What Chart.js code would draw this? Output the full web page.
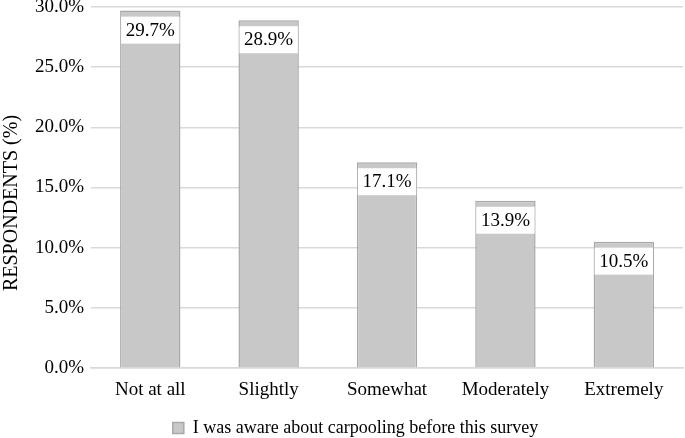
<!DOCTYPE html>
<html>
<head>
<meta charset="utf-8">
<script src="https://cdn.jsdelivr.net/npm/chart.js@4.4.0/dist/chart.umd.min.js"></script>
<style>
  html, body { margin: 0; padding: 0; background: #ffffff; }
  #wrap { width: 685px; height: 438px; }
</style>
</head>
<body>
<div id="wrap"><canvas id="chart"></canvas></div>
<script>
// chart data
const categories = ['Not at all', 'Slightly', 'Somewhat', 'Moderately', 'Extremely'];
const awareValues = [29.7, 28.9, 17.1, 13.9, 10.5];
const seriesLabel = 'I was aware about carpooling before this survey';
const yTitle = 'RESPONDENTS (%)';
const yTicks = [0, 5, 10, 15, 20, 25, 30];

const serif = "'Liberation Serif', 'Times New Roman', serif";

// white boxed value labels just under the top of each bar
const valueBoxes = {
  id: 'valueBoxes',
  afterDatasetsDraw(chart) {
    const { ctx } = chart;
    const meta = chart.getDatasetMeta(0);
    ctx.save();
    ctx.font = '19px ' + serif;
    ctx.textAlign = 'center';
    ctx.textBaseline = 'middle';
    meta.data.forEach((bar, i) => {
      const w = bar.width - 2;
      const top = bar.y + 6;
      ctx.fillStyle = '#ffffff';
      ctx.fillRect(bar.x - w / 2, top, w, 27);
      ctx.fillStyle = '#000000';
      ctx.fillText(awareValues[i].toFixed(1) + '%', bar.x, top + 14);
    });
    ctx.restore();
  }
};

// y title sits a bit below the axis middle in the original
const sideTitle = {
  id: 'sideTitle',
  afterDraw(chart) {
    const { ctx } = chart;
    ctx.save();
    ctx.translate(12, 203);
    ctx.rotate(-Math.PI / 2);
    ctx.font = '20px ' + serif;
    ctx.fillStyle = '#000';
    ctx.textAlign = 'center';
    ctx.textBaseline = 'middle';
    ctx.fillText(yTitle, 0, 0);
    ctx.restore();
  }
};

new Chart(document.getElementById('chart'), {
  type: 'bar',
  data: {
    labels: categories,
    datasets: [{
      label: seriesLabel,
      data: awareValues,
      backgroundColor: '#c8c8c8',
      borderColor: '#a8a8a8',
      borderWidth: 1.5,
      barPercentage: 0.51,
      categoryPercentage: 1.0
    }]
  },
  options: {
    responsive: true,
    maintainAspectRatio: false,
    animation: false,
    layout: { padding: { top: 7, right: 2, left: 28, bottom: -9 } },
    scales: {
      x: {
        grid: { display: false },
        border: { color: '#d9d9d9', width: 1.5 },
        ticks: { color: '#000', font: { family: serif, size: 19 }, padding: 3 },
        afterFit: (axis) => { axis.height = 49; }
      },
      y: {
        min: 0,
        max: 30,
        afterBuildTicks: (axis) => { axis.ticks = yTicks.map(v => ({ value: v })); },
        afterFit: (axis) => { axis.paddingTop = 0; axis.paddingBottom = 0; },
        grid: { color: '#d9d9d9', lineWidth: 1.5, drawTicks: false },
        border: { display: false },
        ticks: {
          color: '#000',
          font: { family: serif, size: 19 },
          padding: 7,
          callback: (v) => v.toFixed(1) + '%'
        }
      }
    },
    plugins: {
      legend: {
        position: 'bottom',
        labels: {
          color: '#000',
          font: { family: serif, size: 18 },
          boxWidth: 11,
          boxHeight: 11,
          padding: 2
        }
      },
      tooltip: { enabled: false }
    }
  },
  plugins: [valueBoxes, sideTitle]
});
</script>
</body>
</html>
